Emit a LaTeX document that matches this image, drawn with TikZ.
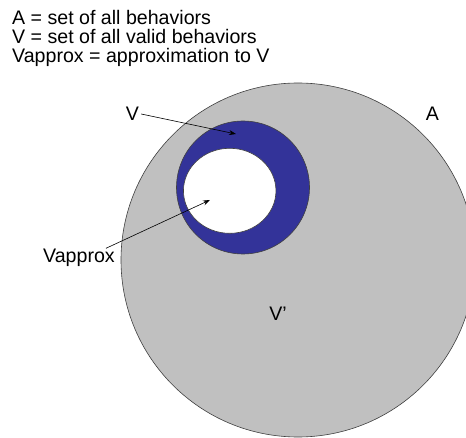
\documentclass[tikz,border=0pt]{standalone}
\usepackage{fontspec}
\setmainfont{Liberation Sans}
\usetikzlibrary{shapes.geometric,arrows.meta}
\definecolor{setgray}{HTML}{C0C0C0}
\definecolor{setblue}{HTML}{333399}
\tikzset{
  lbl/.style={inner sep=0pt, font=\fontsize{19.6}{19.6}\selectfont},
  title/.style={lbl, anchor=base west},
  setline/.style={draw=black!75, line width=0.6pt},
  pointer/.style={draw=black, line width=0.6pt, -{Stealth[length=7pt,width=5pt]}}
}
\begin{document}
\begin{tikzpicture}[x=1pt,y=-1pt]
\useasboundingbox (0,0) rectangle (466,438);
\clip (0,0) rectangle (466,438);
% titles
\node[title] (t1) at (12,25) {A = set of all behaviors};
\node[title] (t2) at (12,43.8) {V = set of all valid behaviors};
\node[title] (t3) at (12,62.5) {Vapprox = approximation to V};
% sets
\node[setline, fill=setgray, circle, minimum size=354pt, inner sep=0pt] (A) at (298,260) {};
\node[setline, fill=setblue, circle, minimum size=133pt, inner sep=0pt] (Vset) at (243,187.5) {};
\node[setline, fill=white, ellipse, minimum width=92.5pt, minimum height=85pt, inner sep=0pt] (Vapp) at (229.7,190.8) {};
% labels
\node[lbl] (lV) at (132.5,114) {V};
\node[lbl] (lA) at (432.5,113.5) {A};
\node[lbl] (lVp) at (278,313.5) {V'};
\node[lbl, anchor=base west] (lVa) at (43,263) {Vapprox};
% arrows
\coordinate (tipV) at (236,134);
\coordinate (tipVa) at (210,200);
\draw[pointer] (lV.east) ++(2,0) coordinate (sV) -- (tipV);
\draw[pointer] (lVa.north east) ++(-9,-1) coordinate (sVa) -- (tipVa);
\end{tikzpicture}
\end{document}
